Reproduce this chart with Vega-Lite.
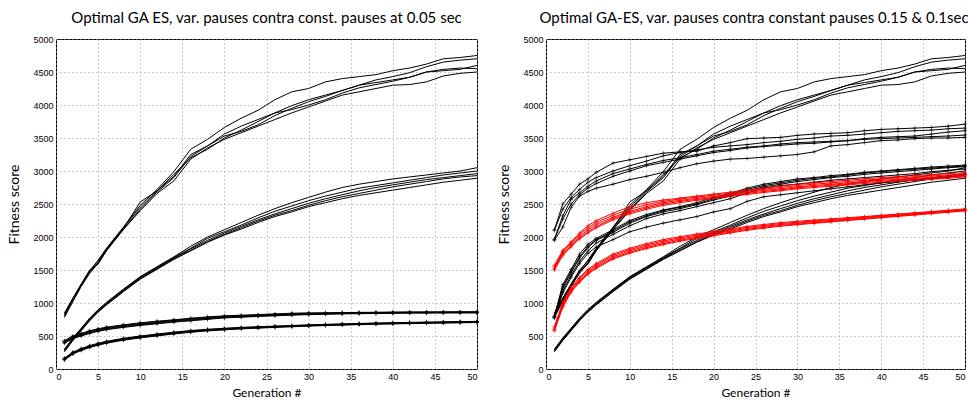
{
"$schema":"https://vega.github.io/schema/vega-lite/v6.json",
"padding":{"left":7,"top":10,"right":0,"bottom":0},
"config":{
"view":{"stroke":"black","strokeWidth":1},
"font":"Lato",
"axis":{"grid":true,"gridColor":"#999999","gridDash":[1,3],"gridWidth":1,"domain":false,"ticks":false,"labelFont":"Liberation Sans","labelFontSize":9,"labelColor":"black","labelPadding":3,"titleFont":"Lato","titleFontSize":12,"titleFontWeight":"normal","titleColor":"black","format":"d"},
"title":{"font":"Lato","fontSize":15,"fontWeight":"normal","color":"black","offset":9},
"concat":{"spacing":15}
},
"datasets":{"d":[
{"g":"A","s":1,"x":1,"y":850},{"g":"A","s":1,"x":2,"y":1070},{"g":"A","s":1,"x":3,"y":1280},{"g":"A","s":1,"x":4,"y":1480},{"g":"A","s":1,"x":5,"y":1650},{"g":"A","s":1,"x":6,"y":1830},{"g":"A","s":1,"x":8,"y":2150},{"g":"A","s":1,"x":10,"y":2480},{"g":"A","s":1,"x":12,"y":2720},{"g":"A","s":1,"x":14,"y":2990},{"g":"A","s":1,"x":16,"y":3330},{"g":"A","s":1,"x":18,"y":3480},{"g":"A","s":1,"x":20,"y":3660},{"g":"A","s":1,"x":22,"y":3800},{"g":"A","s":1,"x":24,"y":3920},{"g":"A","s":1,"x":26,"y":4080},{"g":"A","s":1,"x":28,"y":4200},{"g":"A","s":1,"x":30,"y":4250},{"g":"A","s":1,"x":32,"y":4350},{"g":"A","s":1,"x":34,"y":4400},{"g":"A","s":1,"x":36,"y":4430},{"g":"A","s":1,"x":38,"y":4460},{"g":"A","s":1,"x":40,"y":4520},{"g":"A","s":1,"x":42,"y":4560},{"g":"A","s":1,"x":44,"y":4620},{"g":"A","s":1,"x":46,"y":4700},{"g":"A","s":1,"x":48,"y":4720},{"g":"A","s":1,"x":50,"y":4750},
{"g":"A","s":2,"x":1,"y":800},{"g":"A","s":2,"x":2,"y":1040},{"g":"A","s":2,"x":3,"y":1270},{"g":"A","s":2,"x":4,"y":1480},{"g":"A","s":2,"x":5,"y":1610},{"g":"A","s":2,"x":6,"y":1810},{"g":"A","s":2,"x":8,"y":2130},{"g":"A","s":2,"x":10,"y":2530},{"g":"A","s":2,"x":12,"y":2700},{"g":"A","s":2,"x":14,"y":2950},{"g":"A","s":2,"x":16,"y":3200},{"g":"A","s":2,"x":18,"y":3330},{"g":"A","s":2,"x":20,"y":3500},{"g":"A","s":2,"x":22,"y":3620},{"g":"A","s":2,"x":24,"y":3750},{"g":"A","s":2,"x":26,"y":3880},{"g":"A","s":2,"x":28,"y":3990},{"g":"A","s":2,"x":30,"y":4080},{"g":"A","s":2,"x":32,"y":4150},{"g":"A","s":2,"x":34,"y":4220},{"g":"A","s":2,"x":36,"y":4300},{"g":"A","s":2,"x":38,"y":4380},{"g":"A","s":2,"x":40,"y":4430},{"g":"A","s":2,"x":42,"y":4490},{"g":"A","s":2,"x":44,"y":4580},{"g":"A","s":2,"x":46,"y":4650},{"g":"A","s":2,"x":48,"y":4680},{"g":"A","s":2,"x":50,"y":4700},
{"g":"A","s":3,"x":1,"y":780},{"g":"A","s":3,"x":2,"y":1020},{"g":"A","s":3,"x":3,"y":1250},{"g":"A","s":3,"x":4,"y":1450},{"g":"A","s":3,"x":5,"y":1600},{"g":"A","s":3,"x":6,"y":1800},{"g":"A","s":3,"x":8,"y":2120},{"g":"A","s":3,"x":10,"y":2420},{"g":"A","s":3,"x":12,"y":2680},{"g":"A","s":3,"x":14,"y":2900},{"g":"A","s":3,"x":16,"y":3220},{"g":"A","s":3,"x":18,"y":3380},{"g":"A","s":3,"x":20,"y":3530},{"g":"A","s":3,"x":22,"y":3600},{"g":"A","s":3,"x":24,"y":3700},{"g":"A","s":3,"x":26,"y":3840},{"g":"A","s":3,"x":28,"y":3950},{"g":"A","s":3,"x":30,"y":4050},{"g":"A","s":3,"x":32,"y":4130},{"g":"A","s":3,"x":34,"y":4220},{"g":"A","s":3,"x":36,"y":4300},{"g":"A","s":3,"x":38,"y":4340},{"g":"A","s":3,"x":40,"y":4380},{"g":"A","s":3,"x":42,"y":4420},{"g":"A","s":3,"x":44,"y":4500},{"g":"A","s":3,"x":46,"y":4520},{"g":"A","s":3,"x":48,"y":4540},{"g":"A","s":3,"x":50,"y":4600},
{"g":"A","s":4,"x":1,"y":820},{"g":"A","s":4,"x":2,"y":1060},{"g":"A","s":4,"x":3,"y":1280},{"g":"A","s":4,"x":4,"y":1470},{"g":"A","s":4,"x":5,"y":1590},{"g":"A","s":4,"x":6,"y":1790},{"g":"A","s":4,"x":8,"y":2110},{"g":"A","s":4,"x":10,"y":2400},{"g":"A","s":4,"x":12,"y":2660},{"g":"A","s":4,"x":14,"y":2850},{"g":"A","s":4,"x":16,"y":3180},{"g":"A","s":4,"x":18,"y":3350},{"g":"A","s":4,"x":20,"y":3480},{"g":"A","s":4,"x":22,"y":3580},{"g":"A","s":4,"x":24,"y":3680},{"g":"A","s":4,"x":26,"y":3780},{"g":"A","s":4,"x":28,"y":3880},{"g":"A","s":4,"x":30,"y":3970},{"g":"A","s":4,"x":32,"y":4060},{"g":"A","s":4,"x":34,"y":4150},{"g":"A","s":4,"x":36,"y":4200},{"g":"A","s":4,"x":38,"y":4250},{"g":"A","s":4,"x":40,"y":4300},{"g":"A","s":4,"x":42,"y":4310},{"g":"A","s":4,"x":44,"y":4350},{"g":"A","s":4,"x":46,"y":4440},{"g":"A","s":4,"x":48,"y":4480},{"g":"A","s":4,"x":50,"y":4500},
{"g":"A","s":5,"x":1,"y":830},{"g":"A","s":5,"x":2,"y":1070},{"g":"A","s":5,"x":3,"y":1290},{"g":"A","s":5,"x":4,"y":1500},{"g":"A","s":5,"x":5,"y":1630},{"g":"A","s":5,"x":6,"y":1820},{"g":"A","s":5,"x":8,"y":2140},{"g":"A","s":5,"x":10,"y":2450},{"g":"A","s":5,"x":12,"y":2700},{"g":"A","s":5,"x":14,"y":2920},{"g":"A","s":5,"x":16,"y":3250},{"g":"A","s":5,"x":18,"y":3380},{"g":"A","s":5,"x":20,"y":3560},{"g":"A","s":5,"x":22,"y":3680},{"g":"A","s":5,"x":24,"y":3780},{"g":"A","s":5,"x":26,"y":3880},{"g":"A","s":5,"x":28,"y":3930},{"g":"A","s":5,"x":30,"y":4000},{"g":"A","s":5,"x":32,"y":4080},{"g":"A","s":5,"x":34,"y":4180},{"g":"A","s":5,"x":36,"y":4260},{"g":"A","s":5,"x":38,"y":4310},{"g":"A","s":5,"x":40,"y":4360},{"g":"A","s":5,"x":42,"y":4420},{"g":"A","s":5,"x":44,"y":4500},{"g":"A","s":5,"x":46,"y":4540},{"g":"A","s":5,"x":48,"y":4560},{"g":"A","s":5,"x":50,"y":4550},
{"g":"B","s":1,"x":1,"y":300},{"g":"B","s":1,"x":2,"y":470},{"g":"B","s":1,"x":3,"y":620},{"g":"B","s":1,"x":4,"y":770},{"g":"B","s":1,"x":5,"y":900},{"g":"B","s":1,"x":6,"y":1010},{"g":"B","s":1,"x":8,"y":1210},{"g":"B","s":1,"x":10,"y":1400},{"g":"B","s":1,"x":12,"y":1550},{"g":"B","s":1,"x":14,"y":1700},{"g":"B","s":1,"x":16,"y":1860},{"g":"B","s":1,"x":18,"y":2000},{"g":"B","s":1,"x":20,"y":2110},{"g":"B","s":1,"x":22,"y":2220},{"g":"B","s":1,"x":24,"y":2330},{"g":"B","s":1,"x":26,"y":2430},{"g":"B","s":1,"x":28,"y":2520},{"g":"B","s":1,"x":30,"y":2600},{"g":"B","s":1,"x":32,"y":2680},{"g":"B","s":1,"x":34,"y":2750},{"g":"B","s":1,"x":36,"y":2800},{"g":"B","s":1,"x":38,"y":2840},{"g":"B","s":1,"x":40,"y":2880},{"g":"B","s":1,"x":42,"y":2910},{"g":"B","s":1,"x":44,"y":2940},{"g":"B","s":1,"x":46,"y":2970},{"g":"B","s":1,"x":48,"y":3000},{"g":"B","s":1,"x":50,"y":3050},
{"g":"B","s":2,"x":1,"y":290},{"g":"B","s":2,"x":2,"y":460},{"g":"B","s":2,"x":3,"y":610},{"g":"B","s":2,"x":4,"y":760},{"g":"B","s":2,"x":5,"y":890},{"g":"B","s":2,"x":6,"y":1000},{"g":"B","s":2,"x":8,"y":1200},{"g":"B","s":2,"x":10,"y":1390},{"g":"B","s":2,"x":12,"y":1540},{"g":"B","s":2,"x":14,"y":1690},{"g":"B","s":2,"x":16,"y":1830},{"g":"B","s":2,"x":18,"y":1980},{"g":"B","s":2,"x":20,"y":2080},{"g":"B","s":2,"x":22,"y":2180},{"g":"B","s":2,"x":24,"y":2290},{"g":"B","s":2,"x":26,"y":2390},{"g":"B","s":2,"x":28,"y":2470},{"g":"B","s":2,"x":30,"y":2550},{"g":"B","s":2,"x":32,"y":2620},{"g":"B","s":2,"x":34,"y":2680},{"g":"B","s":2,"x":36,"y":2740},{"g":"B","s":2,"x":38,"y":2780},{"g":"B","s":2,"x":40,"y":2820},{"g":"B","s":2,"x":42,"y":2860},{"g":"B","s":2,"x":44,"y":2900},{"g":"B","s":2,"x":46,"y":2940},{"g":"B","s":2,"x":48,"y":2970},{"g":"B","s":2,"x":50,"y":3000},
{"g":"B","s":3,"x":1,"y":280},{"g":"B","s":3,"x":2,"y":450},{"g":"B","s":3,"x":3,"y":600},{"g":"B","s":3,"x":4,"y":750},{"g":"B","s":3,"x":5,"y":880},{"g":"B","s":3,"x":6,"y":990},{"g":"B","s":3,"x":8,"y":1190},{"g":"B","s":3,"x":10,"y":1380},{"g":"B","s":3,"x":12,"y":1530},{"g":"B","s":3,"x":14,"y":1680},{"g":"B","s":3,"x":16,"y":1820},{"g":"B","s":3,"x":18,"y":1950},{"g":"B","s":3,"x":20,"y":2060},{"g":"B","s":3,"x":22,"y":2160},{"g":"B","s":3,"x":24,"y":2260},{"g":"B","s":3,"x":26,"y":2350},{"g":"B","s":3,"x":28,"y":2430},{"g":"B","s":3,"x":30,"y":2510},{"g":"B","s":3,"x":32,"y":2580},{"g":"B","s":3,"x":34,"y":2640},{"g":"B","s":3,"x":36,"y":2700},{"g":"B","s":3,"x":38,"y":2750},{"g":"B","s":3,"x":40,"y":2790},{"g":"B","s":3,"x":42,"y":2830},{"g":"B","s":3,"x":44,"y":2870},{"g":"B","s":3,"x":46,"y":2900},{"g":"B","s":3,"x":48,"y":2930},{"g":"B","s":3,"x":50,"y":2960},
{"g":"B","s":4,"x":1,"y":270},{"g":"B","s":4,"x":2,"y":440},{"g":"B","s":4,"x":3,"y":590},{"g":"B","s":4,"x":4,"y":740},{"g":"B","s":4,"x":5,"y":870},{"g":"B","s":4,"x":6,"y":980},{"g":"B","s":4,"x":8,"y":1180},{"g":"B","s":4,"x":10,"y":1370},{"g":"B","s":4,"x":12,"y":1520},{"g":"B","s":4,"x":14,"y":1670},{"g":"B","s":4,"x":16,"y":1800},{"g":"B","s":4,"x":18,"y":1930},{"g":"B","s":4,"x":20,"y":2040},{"g":"B","s":4,"x":22,"y":2140},{"g":"B","s":4,"x":24,"y":2240},{"g":"B","s":4,"x":26,"y":2330},{"g":"B","s":4,"x":28,"y":2400},{"g":"B","s":4,"x":30,"y":2480},{"g":"B","s":4,"x":32,"y":2550},{"g":"B","s":4,"x":34,"y":2610},{"g":"B","s":4,"x":36,"y":2660},{"g":"B","s":4,"x":38,"y":2710},{"g":"B","s":4,"x":40,"y":2760},{"g":"B","s":4,"x":42,"y":2800},{"g":"B","s":4,"x":44,"y":2840},{"g":"B","s":4,"x":46,"y":2880},{"g":"B","s":4,"x":48,"y":2910},{"g":"B","s":4,"x":50,"y":2930},
{"g":"B","s":5,"x":1,"y":260},{"g":"B","s":5,"x":2,"y":430},{"g":"B","s":5,"x":3,"y":580},{"g":"B","s":5,"x":4,"y":730},{"g":"B","s":5,"x":5,"y":860},{"g":"B","s":5,"x":6,"y":970},{"g":"B","s":5,"x":8,"y":1170},{"g":"B","s":5,"x":10,"y":1360},{"g":"B","s":5,"x":12,"y":1510},{"g":"B","s":5,"x":14,"y":1660},{"g":"B","s":5,"x":16,"y":1790},{"g":"B","s":5,"x":18,"y":1920},{"g":"B","s":5,"x":20,"y":2030},{"g":"B","s":5,"x":22,"y":2120},{"g":"B","s":5,"x":24,"y":2220},{"g":"B","s":5,"x":26,"y":2310},{"g":"B","s":5,"x":28,"y":2380},{"g":"B","s":5,"x":30,"y":2460},{"g":"B","s":5,"x":32,"y":2520},{"g":"B","s":5,"x":34,"y":2580},{"g":"B","s":5,"x":36,"y":2630},{"g":"B","s":5,"x":38,"y":2670},{"g":"B","s":5,"x":40,"y":2710},{"g":"B","s":5,"x":42,"y":2750},{"g":"B","s":5,"x":44,"y":2790},{"g":"B","s":5,"x":46,"y":2830},{"g":"B","s":5,"x":48,"y":2860},{"g":"B","s":5,"x":50,"y":2890},
{"g":"C","s":1,"x":1,"y":430},{"g":"C","s":1,"x":2,"y":500},{"g":"C","s":1,"x":3,"y":540},{"g":"C","s":1,"x":4,"y":580},{"g":"C","s":1,"x":5,"y":610},{"g":"C","s":1,"x":6,"y":635},{"g":"C","s":1,"x":8,"y":670},{"g":"C","s":1,"x":10,"y":700},{"g":"C","s":1,"x":12,"y":725},{"g":"C","s":1,"x":14,"y":745},{"g":"C","s":1,"x":16,"y":770},{"g":"C","s":1,"x":18,"y":790},{"g":"C","s":1,"x":20,"y":805},{"g":"C","s":1,"x":22,"y":815},{"g":"C","s":1,"x":24,"y":825},{"g":"C","s":1,"x":26,"y":835},{"g":"C","s":1,"x":28,"y":845},{"g":"C","s":1,"x":30,"y":850},{"g":"C","s":1,"x":32,"y":852},{"g":"C","s":1,"x":34,"y":855},{"g":"C","s":1,"x":36,"y":858},{"g":"C","s":1,"x":38,"y":860},{"g":"C","s":1,"x":40,"y":862},{"g":"C","s":1,"x":42,"y":864},{"g":"C","s":1,"x":44,"y":865},{"g":"C","s":1,"x":46,"y":866},{"g":"C","s":1,"x":48,"y":867},{"g":"C","s":1,"x":50,"y":868},
{"g":"C","s":2,"x":1,"y":420},{"g":"C","s":2,"x":2,"y":490},{"g":"C","s":2,"x":3,"y":530},{"g":"C","s":2,"x":4,"y":570},{"g":"C","s":2,"x":5,"y":600},{"g":"C","s":2,"x":6,"y":625},{"g":"C","s":2,"x":8,"y":660},{"g":"C","s":2,"x":10,"y":690},{"g":"C","s":2,"x":12,"y":715},{"g":"C","s":2,"x":14,"y":738},{"g":"C","s":2,"x":16,"y":760},{"g":"C","s":2,"x":18,"y":780},{"g":"C","s":2,"x":20,"y":798},{"g":"C","s":2,"x":22,"y":808},{"g":"C","s":2,"x":24,"y":818},{"g":"C","s":2,"x":26,"y":828},{"g":"C","s":2,"x":28,"y":838},{"g":"C","s":2,"x":30,"y":843},{"g":"C","s":2,"x":32,"y":847},{"g":"C","s":2,"x":34,"y":851},{"g":"C","s":2,"x":36,"y":854},{"g":"C","s":2,"x":38,"y":856},{"g":"C","s":2,"x":40,"y":858},{"g":"C","s":2,"x":42,"y":860},{"g":"C","s":2,"x":44,"y":861},{"g":"C","s":2,"x":46,"y":862},{"g":"C","s":2,"x":48,"y":863},{"g":"C","s":2,"x":50,"y":863},
{"g":"C","s":3,"x":1,"y":410},{"g":"C","s":3,"x":2,"y":480},{"g":"C","s":3,"x":3,"y":520},{"g":"C","s":3,"x":4,"y":560},{"g":"C","s":3,"x":5,"y":590},{"g":"C","s":3,"x":6,"y":615},{"g":"C","s":3,"x":8,"y":650},{"g":"C","s":3,"x":10,"y":680},{"g":"C","s":3,"x":12,"y":705},{"g":"C","s":3,"x":14,"y":730},{"g":"C","s":3,"x":16,"y":750},{"g":"C","s":3,"x":18,"y":770},{"g":"C","s":3,"x":20,"y":790},{"g":"C","s":3,"x":22,"y":800},{"g":"C","s":3,"x":24,"y":810},{"g":"C","s":3,"x":26,"y":820},{"g":"C","s":3,"x":28,"y":830},{"g":"C","s":3,"x":30,"y":835},{"g":"C","s":3,"x":32,"y":840},{"g":"C","s":3,"x":34,"y":845},{"g":"C","s":3,"x":36,"y":848},{"g":"C","s":3,"x":38,"y":850},{"g":"C","s":3,"x":40,"y":852},{"g":"C","s":3,"x":42,"y":855},{"g":"C","s":3,"x":44,"y":856},{"g":"C","s":3,"x":46,"y":857},{"g":"C","s":3,"x":48,"y":858},{"g":"C","s":3,"x":50,"y":858},
{"g":"C","s":4,"x":1,"y":400},{"g":"C","s":4,"x":2,"y":470},{"g":"C","s":4,"x":3,"y":510},{"g":"C","s":4,"x":4,"y":550},{"g":"C","s":4,"x":5,"y":580},{"g":"C","s":4,"x":6,"y":605},{"g":"C","s":4,"x":8,"y":640},{"g":"C","s":4,"x":10,"y":670},{"g":"C","s":4,"x":12,"y":695},{"g":"C","s":4,"x":14,"y":720},{"g":"C","s":4,"x":16,"y":740},{"g":"C","s":4,"x":18,"y":762},{"g":"C","s":4,"x":20,"y":782},{"g":"C","s":4,"x":22,"y":792},{"g":"C","s":4,"x":24,"y":803},{"g":"C","s":4,"x":26,"y":813},{"g":"C","s":4,"x":28,"y":823},{"g":"C","s":4,"x":30,"y":829},{"g":"C","s":4,"x":32,"y":835},{"g":"C","s":4,"x":34,"y":840},{"g":"C","s":4,"x":36,"y":843},{"g":"C","s":4,"x":38,"y":846},{"g":"C","s":4,"x":40,"y":848},{"g":"C","s":4,"x":42,"y":851},{"g":"C","s":4,"x":44,"y":852},{"g":"C","s":4,"x":46,"y":853},{"g":"C","s":4,"x":48,"y":854},{"g":"C","s":4,"x":50,"y":854},
{"g":"C","s":5,"x":1,"y":390},{"g":"C","s":5,"x":2,"y":460},{"g":"C","s":5,"x":3,"y":500},{"g":"C","s":5,"x":4,"y":540},{"g":"C","s":5,"x":5,"y":570},{"g":"C","s":5,"x":6,"y":595},{"g":"C","s":5,"x":8,"y":630},{"g":"C","s":5,"x":10,"y":660},{"g":"C","s":5,"x":12,"y":685},{"g":"C","s":5,"x":14,"y":710},{"g":"C","s":5,"x":16,"y":730},{"g":"C","s":5,"x":18,"y":752},{"g":"C","s":5,"x":20,"y":774},{"g":"C","s":5,"x":22,"y":785},{"g":"C","s":5,"x":24,"y":796},{"g":"C","s":5,"x":26,"y":806},{"g":"C","s":5,"x":28,"y":816},{"g":"C","s":5,"x":30,"y":823},{"g":"C","s":5,"x":32,"y":829},{"g":"C","s":5,"x":34,"y":835},{"g":"C","s":5,"x":36,"y":838},{"g":"C","s":5,"x":38,"y":841},{"g":"C","s":5,"x":40,"y":844},{"g":"C","s":5,"x":42,"y":847},{"g":"C","s":5,"x":44,"y":848},{"g":"C","s":5,"x":46,"y":849},{"g":"C","s":5,"x":48,"y":850},{"g":"C","s":5,"x":50,"y":850},
{"g":"D","s":1,"x":1,"y":165},{"g":"D","s":1,"x":2,"y":255},{"g":"D","s":1,"x":3,"y":310},{"g":"D","s":1,"x":4,"y":355},{"g":"D","s":1,"x":5,"y":390},{"g":"D","s":1,"x":6,"y":420},{"g":"D","s":1,"x":8,"y":465},{"g":"D","s":1,"x":10,"y":500},{"g":"D","s":1,"x":12,"y":530},{"g":"D","s":1,"x":14,"y":558},{"g":"D","s":1,"x":16,"y":583},{"g":"D","s":1,"x":18,"y":602},{"g":"D","s":1,"x":20,"y":617},{"g":"D","s":1,"x":22,"y":631},{"g":"D","s":1,"x":24,"y":640},{"g":"D","s":1,"x":26,"y":650},{"g":"D","s":1,"x":28,"y":659},{"g":"D","s":1,"x":30,"y":669},{"g":"D","s":1,"x":32,"y":676},{"g":"D","s":1,"x":34,"y":683},{"g":"D","s":1,"x":36,"y":690},{"g":"D","s":1,"x":38,"y":696},{"g":"D","s":1,"x":40,"y":701},{"g":"D","s":1,"x":42,"y":706},{"g":"D","s":1,"x":44,"y":710},{"g":"D","s":1,"x":46,"y":714},{"g":"D","s":1,"x":48,"y":718},{"g":"D","s":1,"x":50,"y":722},
{"g":"D","s":2,"x":1,"y":157},{"g":"D","s":2,"x":2,"y":247},{"g":"D","s":2,"x":3,"y":302},{"g":"D","s":2,"x":4,"y":347},{"g":"D","s":2,"x":5,"y":382},{"g":"D","s":2,"x":6,"y":412},{"g":"D","s":2,"x":8,"y":457},{"g":"D","s":2,"x":10,"y":492},{"g":"D","s":2,"x":12,"y":522},{"g":"D","s":2,"x":14,"y":552},{"g":"D","s":2,"x":16,"y":577},{"g":"D","s":2,"x":18,"y":596},{"g":"D","s":2,"x":20,"y":611},{"g":"D","s":2,"x":22,"y":626},{"g":"D","s":2,"x":24,"y":636},{"g":"D","s":2,"x":26,"y":645},{"g":"D","s":2,"x":28,"y":655},{"g":"D","s":2,"x":30,"y":665},{"g":"D","s":2,"x":32,"y":673},{"g":"D","s":2,"x":34,"y":680},{"g":"D","s":2,"x":36,"y":687},{"g":"D","s":2,"x":38,"y":693},{"g":"D","s":2,"x":40,"y":698},{"g":"D","s":2,"x":42,"y":703},{"g":"D","s":2,"x":44,"y":707},{"g":"D","s":2,"x":46,"y":711},{"g":"D","s":2,"x":48,"y":715},{"g":"D","s":2,"x":50,"y":719},
{"g":"D","s":3,"x":1,"y":150},{"g":"D","s":3,"x":2,"y":240},{"g":"D","s":3,"x":3,"y":295},{"g":"D","s":3,"x":4,"y":340},{"g":"D","s":3,"x":5,"y":375},{"g":"D","s":3,"x":6,"y":405},{"g":"D","s":3,"x":8,"y":450},{"g":"D","s":3,"x":10,"y":485},{"g":"D","s":3,"x":12,"y":515},{"g":"D","s":3,"x":14,"y":545},{"g":"D","s":3,"x":16,"y":570},{"g":"D","s":3,"x":18,"y":590},{"g":"D","s":3,"x":20,"y":605},{"g":"D","s":3,"x":22,"y":620},{"g":"D","s":3,"x":24,"y":630},{"g":"D","s":3,"x":26,"y":640},{"g":"D","s":3,"x":28,"y":650},{"g":"D","s":3,"x":30,"y":660},{"g":"D","s":3,"x":32,"y":668},{"g":"D","s":3,"x":34,"y":675},{"g":"D","s":3,"x":36,"y":682},{"g":"D","s":3,"x":38,"y":688},{"g":"D","s":3,"x":40,"y":693},{"g":"D","s":3,"x":42,"y":698},{"g":"D","s":3,"x":44,"y":702},{"g":"D","s":3,"x":46,"y":706},{"g":"D","s":3,"x":48,"y":710},{"g":"D","s":3,"x":50,"y":714},
{"g":"D","s":4,"x":1,"y":143},{"g":"D","s":4,"x":2,"y":233},{"g":"D","s":4,"x":3,"y":288},{"g":"D","s":4,"x":4,"y":333},{"g":"D","s":4,"x":5,"y":368},{"g":"D","s":4,"x":6,"y":398},{"g":"D","s":4,"x":8,"y":443},{"g":"D","s":4,"x":10,"y":478},{"g":"D","s":4,"x":12,"y":508},{"g":"D","s":4,"x":14,"y":538},{"g":"D","s":4,"x":16,"y":563},{"g":"D","s":4,"x":18,"y":584},{"g":"D","s":4,"x":20,"y":599},{"g":"D","s":4,"x":22,"y":614},{"g":"D","s":4,"x":24,"y":624},{"g":"D","s":4,"x":26,"y":635},{"g":"D","s":4,"x":28,"y":645},{"g":"D","s":4,"x":30,"y":655},{"g":"D","s":4,"x":32,"y":663},{"g":"D","s":4,"x":34,"y":670},{"g":"D","s":4,"x":36,"y":677},{"g":"D","s":4,"x":38,"y":683},{"g":"D","s":4,"x":40,"y":688},{"g":"D","s":4,"x":42,"y":693},{"g":"D","s":4,"x":44,"y":697},{"g":"D","s":4,"x":46,"y":701},{"g":"D","s":4,"x":48,"y":705},{"g":"D","s":4,"x":50,"y":709},
{"g":"D","s":5,"x":1,"y":136},{"g":"D","s":5,"x":2,"y":226},{"g":"D","s":5,"x":3,"y":281},{"g":"D","s":5,"x":4,"y":326},{"g":"D","s":5,"x":5,"y":361},{"g":"D","s":5,"x":6,"y":391},{"g":"D","s":5,"x":8,"y":436},{"g":"D","s":5,"x":10,"y":471},{"g":"D","s":5,"x":12,"y":501},{"g":"D","s":5,"x":14,"y":531},{"g":"D","s":5,"x":16,"y":556},{"g":"D","s":5,"x":18,"y":578},{"g":"D","s":5,"x":20,"y":593},{"g":"D","s":5,"x":22,"y":608},{"g":"D","s":5,"x":24,"y":619},{"g":"D","s":5,"x":26,"y":630},{"g":"D","s":5,"x":28,"y":640},{"g":"D","s":5,"x":30,"y":650},{"g":"D","s":5,"x":32,"y":658},{"g":"D","s":5,"x":34,"y":665},{"g":"D","s":5,"x":36,"y":672},{"g":"D","s":5,"x":38,"y":678},{"g":"D","s":5,"x":40,"y":683},{"g":"D","s":5,"x":42,"y":688},{"g":"D","s":5,"x":44,"y":692},{"g":"D","s":5,"x":46,"y":696},{"g":"D","s":5,"x":48,"y":700},{"g":"D","s":5,"x":50,"y":704},
{"g":"E","s":1,"x":1,"y":2110},{"g":"E","s":1,"x":2,"y":2500},{"g":"E","s":1,"x":3,"y":2650},{"g":"E","s":1,"x":4,"y":2800},{"g":"E","s":1,"x":5,"y":2880},{"g":"E","s":1,"x":6,"y":2980},{"g":"E","s":1,"x":8,"y":3120},{"g":"E","s":1,"x":10,"y":3170},{"g":"E","s":1,"x":12,"y":3220},{"g":"E","s":1,"x":14,"y":3270},{"g":"E","s":1,"x":16,"y":3290},{"g":"E","s":1,"x":18,"y":3300},{"g":"E","s":1,"x":20,"y":3380},{"g":"E","s":1,"x":22,"y":3430},{"g":"E","s":1,"x":24,"y":3490},{"g":"E","s":1,"x":26,"y":3500},{"g":"E","s":1,"x":28,"y":3510},{"g":"E","s":1,"x":30,"y":3540},{"g":"E","s":1,"x":32,"y":3560},{"g":"E","s":1,"x":34,"y":3570},{"g":"E","s":1,"x":36,"y":3580},{"g":"E","s":1,"x":38,"y":3610},{"g":"E","s":1,"x":40,"y":3630},{"g":"E","s":1,"x":42,"y":3640},{"g":"E","s":1,"x":44,"y":3650},{"g":"E","s":1,"x":46,"y":3660},{"g":"E","s":1,"x":48,"y":3680},{"g":"E","s":1,"x":50,"y":3710},
{"g":"E","s":2,"x":1,"y":2100},{"g":"E","s":2,"x":2,"y":2420},{"g":"E","s":2,"x":3,"y":2600},{"g":"E","s":2,"x":4,"y":2720},{"g":"E","s":2,"x":5,"y":2830},{"g":"E","s":2,"x":6,"y":2900},{"g":"E","s":2,"x":8,"y":3000},{"g":"E","s":2,"x":10,"y":3080},{"g":"E","s":2,"x":12,"y":3150},{"g":"E","s":2,"x":14,"y":3230},{"g":"E","s":2,"x":16,"y":3280},{"g":"E","s":2,"x":18,"y":3320},{"g":"E","s":2,"x":20,"y":3360},{"g":"E","s":2,"x":22,"y":3380},{"g":"E","s":2,"x":24,"y":3400},{"g":"E","s":2,"x":26,"y":3430},{"g":"E","s":2,"x":28,"y":3450},{"g":"E","s":2,"x":30,"y":3480},{"g":"E","s":2,"x":32,"y":3500},{"g":"E","s":2,"x":34,"y":3530},{"g":"E","s":2,"x":36,"y":3540},{"g":"E","s":2,"x":38,"y":3560},{"g":"E","s":2,"x":40,"y":3580},{"g":"E","s":2,"x":42,"y":3600},{"g":"E","s":2,"x":44,"y":3610},{"g":"E","s":2,"x":46,"y":3620},{"g":"E","s":2,"x":48,"y":3640},{"g":"E","s":2,"x":50,"y":3650},
{"g":"E","s":3,"x":1,"y":1970},{"g":"E","s":3,"x":2,"y":2320},{"g":"E","s":3,"x":3,"y":2570},{"g":"E","s":3,"x":4,"y":2670},{"g":"E","s":3,"x":5,"y":2770},{"g":"E","s":3,"x":6,"y":2850},{"g":"E","s":3,"x":8,"y":2960},{"g":"E","s":3,"x":10,"y":3030},{"g":"E","s":3,"x":12,"y":3100},{"g":"E","s":3,"x":14,"y":3160},{"g":"E","s":3,"x":16,"y":3200},{"g":"E","s":3,"x":18,"y":3250},{"g":"E","s":3,"x":20,"y":3300},{"g":"E","s":3,"x":22,"y":3330},{"g":"E","s":3,"x":24,"y":3360},{"g":"E","s":3,"x":26,"y":3380},{"g":"E","s":3,"x":28,"y":3410},{"g":"E","s":3,"x":30,"y":3430},{"g":"E","s":3,"x":32,"y":3440},{"g":"E","s":3,"x":34,"y":3450},{"g":"E","s":3,"x":36,"y":3460},{"g":"E","s":3,"x":38,"y":3490},{"g":"E","s":3,"x":40,"y":3510},{"g":"E","s":3,"x":42,"y":3520},{"g":"E","s":3,"x":44,"y":3530},{"g":"E","s":3,"x":46,"y":3560},{"g":"E","s":3,"x":48,"y":3590},{"g":"E","s":3,"x":50,"y":3610},
{"g":"E","s":4,"x":1,"y":1960},{"g":"E","s":4,"x":2,"y":2270},{"g":"E","s":4,"x":3,"y":2500},{"g":"E","s":4,"x":4,"y":2640},{"g":"E","s":4,"x":5,"y":2740},{"g":"E","s":4,"x":6,"y":2810},{"g":"E","s":4,"x":8,"y":2920},{"g":"E","s":4,"x":10,"y":3000},{"g":"E","s":4,"x":12,"y":3080},{"g":"E","s":4,"x":14,"y":3130},{"g":"E","s":4,"x":16,"y":3180},{"g":"E","s":4,"x":18,"y":3230},{"g":"E","s":4,"x":20,"y":3280},{"g":"E","s":4,"x":22,"y":3310},{"g":"E","s":4,"x":24,"y":3350},{"g":"E","s":4,"x":26,"y":3370},{"g":"E","s":4,"x":28,"y":3390},{"g":"E","s":4,"x":30,"y":3410},{"g":"E","s":4,"x":32,"y":3420},{"g":"E","s":4,"x":34,"y":3440},{"g":"E","s":4,"x":36,"y":3460},{"g":"E","s":4,"x":38,"y":3480},{"g":"E","s":4,"x":40,"y":3490},{"g":"E","s":4,"x":42,"y":3500},{"g":"E","s":4,"x":44,"y":3510},{"g":"E","s":4,"x":46,"y":3520},{"g":"E","s":4,"x":48,"y":3530},{"g":"E","s":4,"x":50,"y":3545},
{"g":"E","s":5,"x":1,"y":1950},{"g":"E","s":5,"x":2,"y":2150},{"g":"E","s":5,"x":3,"y":2450},{"g":"E","s":5,"x":4,"y":2620},{"g":"E","s":5,"x":5,"y":2690},{"g":"E","s":5,"x":6,"y":2740},{"g":"E","s":5,"x":8,"y":2800},{"g":"E","s":5,"x":10,"y":2870},{"g":"E","s":5,"x":12,"y":2920},{"g":"E","s":5,"x":14,"y":2980},{"g":"E","s":5,"x":16,"y":3050},{"g":"E","s":5,"x":18,"y":3110},{"g":"E","s":5,"x":20,"y":3150},{"g":"E","s":5,"x":22,"y":3180},{"g":"E","s":5,"x":24,"y":3190},{"g":"E","s":5,"x":26,"y":3210},{"g":"E","s":5,"x":28,"y":3230},{"g":"E","s":5,"x":30,"y":3250},{"g":"E","s":5,"x":32,"y":3290},{"g":"E","s":5,"x":34,"y":3380},{"g":"E","s":5,"x":36,"y":3400},{"g":"E","s":5,"x":38,"y":3430},{"g":"E","s":5,"x":40,"y":3460},{"g":"E","s":5,"x":42,"y":3470},{"g":"E","s":5,"x":44,"y":3490},{"g":"E","s":5,"x":46,"y":3500},{"g":"E","s":5,"x":48,"y":3500},{"g":"E","s":5,"x":50,"y":3510},
{"g":"F","s":1,"x":1,"y":800},{"g":"F","s":1,"x":2,"y":1280},{"g":"F","s":1,"x":3,"y":1510},{"g":"F","s":1,"x":4,"y":1740},{"g":"F","s":1,"x":5,"y":1890},{"g":"F","s":1,"x":6,"y":1980},{"g":"F","s":1,"x":8,"y":2110},{"g":"F","s":1,"x":10,"y":2250},{"g":"F","s":1,"x":12,"y":2340},{"g":"F","s":1,"x":14,"y":2410},{"g":"F","s":1,"x":16,"y":2460},{"g":"F","s":1,"x":18,"y":2520},{"g":"F","s":1,"x":20,"y":2600},{"g":"F","s":1,"x":22,"y":2660},{"g":"F","s":1,"x":24,"y":2740},{"g":"F","s":1,"x":26,"y":2800},{"g":"F","s":1,"x":28,"y":2840},{"g":"F","s":1,"x":30,"y":2880},{"g":"F","s":1,"x":32,"y":2900},{"g":"F","s":1,"x":34,"y":2930},{"g":"F","s":1,"x":36,"y":2950},{"g":"F","s":1,"x":38,"y":2980},{"g":"F","s":1,"x":40,"y":3000},{"g":"F","s":1,"x":42,"y":3020},{"g":"F","s":1,"x":44,"y":3040},{"g":"F","s":1,"x":46,"y":3060},{"g":"F","s":1,"x":48,"y":3075},{"g":"F","s":1,"x":50,"y":3090},
{"g":"F","s":2,"x":1,"y":790},{"g":"F","s":2,"x":2,"y":1220},{"g":"F","s":2,"x":3,"y":1460},{"g":"F","s":2,"x":4,"y":1680},{"g":"F","s":2,"x":5,"y":1840},{"g":"F","s":2,"x":6,"y":1950},{"g":"F","s":2,"x":8,"y":2070},{"g":"F","s":2,"x":10,"y":2210},{"g":"F","s":2,"x":12,"y":2310},{"g":"F","s":2,"x":14,"y":2380},{"g":"F","s":2,"x":16,"y":2430},{"g":"F","s":2,"x":18,"y":2490},{"g":"F","s":2,"x":20,"y":2560},{"g":"F","s":2,"x":22,"y":2620},{"g":"F","s":2,"x":24,"y":2700},{"g":"F","s":2,"x":26,"y":2760},{"g":"F","s":2,"x":28,"y":2800},{"g":"F","s":2,"x":30,"y":2840},{"g":"F","s":2,"x":32,"y":2870},{"g":"F","s":2,"x":34,"y":2900},{"g":"F","s":2,"x":36,"y":2920},{"g":"F","s":2,"x":38,"y":2950},{"g":"F","s":2,"x":40,"y":2970},{"g":"F","s":2,"x":42,"y":2990},{"g":"F","s":2,"x":44,"y":3010},{"g":"F","s":2,"x":46,"y":3030},{"g":"F","s":2,"x":48,"y":3050},{"g":"F","s":2,"x":50,"y":3065},
{"g":"F","s":3,"x":1,"y":780},{"g":"F","s":3,"x":2,"y":1180},{"g":"F","s":3,"x":3,"y":1420},{"g":"F","s":3,"x":4,"y":1630},{"g":"F","s":3,"x":5,"y":1790},{"g":"F","s":3,"x":6,"y":1910},{"g":"F","s":3,"x":8,"y":2040},{"g":"F","s":3,"x":10,"y":2170},{"g":"F","s":3,"x":12,"y":2280},{"g":"F","s":3,"x":14,"y":2350},{"g":"F","s":3,"x":16,"y":2400},{"g":"F","s":3,"x":18,"y":2460},{"g":"F","s":3,"x":20,"y":2520},{"g":"F","s":3,"x":22,"y":2580},{"g":"F","s":3,"x":24,"y":2670},{"g":"F","s":3,"x":26,"y":2740},{"g":"F","s":3,"x":28,"y":2780},{"g":"F","s":3,"x":30,"y":2800},{"g":"F","s":3,"x":32,"y":2830},{"g":"F","s":3,"x":34,"y":2860},{"g":"F","s":3,"x":36,"y":2880},{"g":"F","s":3,"x":38,"y":2900},{"g":"F","s":3,"x":40,"y":2920},{"g":"F","s":3,"x":42,"y":2940},{"g":"F","s":3,"x":44,"y":2960},{"g":"F","s":3,"x":46,"y":2990},{"g":"F","s":3,"x":48,"y":3010},{"g":"F","s":3,"x":50,"y":3030},
{"g":"F","s":4,"x":1,"y":770},{"g":"F","s":4,"x":2,"y":1150},{"g":"F","s":4,"x":3,"y":1390},{"g":"F","s":4,"x":4,"y":1600},{"g":"F","s":4,"x":5,"y":1750},{"g":"F","s":4,"x":6,"y":1850},{"g":"F","s":4,"x":8,"y":1960},{"g":"F","s":4,"x":10,"y":2080},{"g":"F","s":4,"x":12,"y":2150},{"g":"F","s":4,"x":14,"y":2210},{"g":"F","s":4,"x":16,"y":2260},{"g":"F","s":4,"x":18,"y":2310},{"g":"F","s":4,"x":20,"y":2380},{"g":"F","s":4,"x":22,"y":2430},{"g":"F","s":4,"x":24,"y":2540},{"g":"F","s":4,"x":26,"y":2610},{"g":"F","s":4,"x":28,"y":2640},{"g":"F","s":4,"x":30,"y":2670},{"g":"F","s":4,"x":32,"y":2700},{"g":"F","s":4,"x":34,"y":2730},{"g":"F","s":4,"x":36,"y":2760},{"g":"F","s":4,"x":38,"y":2790},{"g":"F","s":4,"x":40,"y":2820},{"g":"F","s":4,"x":42,"y":2840},{"g":"F","s":4,"x":44,"y":2860},{"g":"F","s":4,"x":46,"y":2880},{"g":"F","s":4,"x":48,"y":2910},{"g":"F","s":4,"x":50,"y":2950},
{"g":"F","s":5,"x":1,"y":800},{"g":"F","s":5,"x":2,"y":1250},{"g":"F","s":5,"x":3,"y":1480},{"g":"F","s":5,"x":4,"y":1700},{"g":"F","s":5,"x":5,"y":1860},{"g":"F","s":5,"x":6,"y":1960},{"g":"F","s":5,"x":8,"y":2090},{"g":"F","s":5,"x":10,"y":2230},{"g":"F","s":5,"x":12,"y":2320},{"g":"F","s":5,"x":14,"y":2400},{"g":"F","s":5,"x":16,"y":2450},{"g":"F","s":5,"x":18,"y":2500},{"g":"F","s":5,"x":20,"y":2580},{"g":"F","s":5,"x":22,"y":2640},{"g":"F","s":5,"x":24,"y":2720},{"g":"F","s":5,"x":26,"y":2780},{"g":"F","s":5,"x":28,"y":2820},{"g":"F","s":5,"x":30,"y":2860},{"g":"F","s":5,"x":32,"y":2890},{"g":"F","s":5,"x":34,"y":2910},{"g":"F","s":5,"x":36,"y":2940},{"g":"F","s":5,"x":38,"y":2970},{"g":"F","s":5,"x":40,"y":2990},{"g":"F","s":5,"x":42,"y":3010},{"g":"F","s":5,"x":44,"y":3030},{"g":"F","s":5,"x":46,"y":3045},{"g":"F","s":5,"x":48,"y":3060},{"g":"F","s":5,"x":50,"y":3075},
{"g":"G","s":1,"x":1,"y":1570},{"g":"G","s":1,"x":2,"y":1800},{"g":"G","s":1,"x":3,"y":1930},{"g":"G","s":1,"x":4,"y":2060},{"g":"G","s":1,"x":5,"y":2170},{"g":"G","s":1,"x":6,"y":2250},{"g":"G","s":1,"x":8,"y":2360},{"g":"G","s":1,"x":10,"y":2460},{"g":"G","s":1,"x":12,"y":2520},{"g":"G","s":1,"x":14,"y":2560},{"g":"G","s":1,"x":16,"y":2590},{"g":"G","s":1,"x":18,"y":2620},{"g":"G","s":1,"x":20,"y":2650},{"g":"G","s":1,"x":22,"y":2680},{"g":"G","s":1,"x":24,"y":2710},{"g":"G","s":1,"x":26,"y":2740},{"g":"G","s":1,"x":28,"y":2770},{"g":"G","s":1,"x":30,"y":2800},{"g":"G","s":1,"x":32,"y":2820},{"g":"G","s":1,"x":34,"y":2840},{"g":"G","s":1,"x":36,"y":2860},{"g":"G","s":1,"x":38,"y":2880},{"g":"G","s":1,"x":40,"y":2900},{"g":"G","s":1,"x":42,"y":2915},{"g":"G","s":1,"x":44,"y":2930},{"g":"G","s":1,"x":46,"y":2945},{"g":"G","s":1,"x":48,"y":2960},{"g":"G","s":1,"x":50,"y":2975},
{"g":"G","s":2,"x":1,"y":1550},{"g":"G","s":2,"x":2,"y":1780},{"g":"G","s":2,"x":3,"y":1910},{"g":"G","s":2,"x":4,"y":2040},{"g":"G","s":2,"x":5,"y":2140},{"g":"G","s":2,"x":6,"y":2220},{"g":"G","s":2,"x":8,"y":2330},{"g":"G","s":2,"x":10,"y":2420},{"g":"G","s":2,"x":12,"y":2490},{"g":"G","s":2,"x":14,"y":2540},{"g":"G","s":2,"x":16,"y":2575},{"g":"G","s":2,"x":18,"y":2605},{"g":"G","s":2,"x":20,"y":2635},{"g":"G","s":2,"x":22,"y":2665},{"g":"G","s":2,"x":24,"y":2695},{"g":"G","s":2,"x":26,"y":2725},{"g":"G","s":2,"x":28,"y":2750},{"g":"G","s":2,"x":30,"y":2780},{"g":"G","s":2,"x":32,"y":2800},{"g":"G","s":2,"x":34,"y":2820},{"g":"G","s":2,"x":36,"y":2840},{"g":"G","s":2,"x":38,"y":2860},{"g":"G","s":2,"x":40,"y":2880},{"g":"G","s":2,"x":42,"y":2895},{"g":"G","s":2,"x":44,"y":2910},{"g":"G","s":2,"x":46,"y":2925},{"g":"G","s":2,"x":48,"y":2940},{"g":"G","s":2,"x":50,"y":2955},
{"g":"G","s":3,"x":1,"y":1530},{"g":"G","s":3,"x":2,"y":1760},{"g":"G","s":3,"x":3,"y":1890},{"g":"G","s":3,"x":4,"y":2010},{"g":"G","s":3,"x":5,"y":2110},{"g":"G","s":3,"x":6,"y":2190},{"g":"G","s":3,"x":8,"y":2300},{"g":"G","s":3,"x":10,"y":2390},{"g":"G","s":3,"x":12,"y":2460},{"g":"G","s":3,"x":14,"y":2520},{"g":"G","s":3,"x":16,"y":2555},{"g":"G","s":3,"x":18,"y":2585},{"g":"G","s":3,"x":20,"y":2615},{"g":"G","s":3,"x":22,"y":2645},{"g":"G","s":3,"x":24,"y":2675},{"g":"G","s":3,"x":26,"y":2705},{"g":"G","s":3,"x":28,"y":2730},{"g":"G","s":3,"x":30,"y":2760},{"g":"G","s":3,"x":32,"y":2780},{"g":"G","s":3,"x":34,"y":2800},{"g":"G","s":3,"x":36,"y":2820},{"g":"G","s":3,"x":38,"y":2840},{"g":"G","s":3,"x":40,"y":2860},{"g":"G","s":3,"x":42,"y":2875},{"g":"G","s":3,"x":44,"y":2890},{"g":"G","s":3,"x":46,"y":2905},{"g":"G","s":3,"x":48,"y":2920},{"g":"G","s":3,"x":50,"y":2940},
{"g":"G","s":4,"x":1,"y":1510},{"g":"G","s":4,"x":2,"y":1740},{"g":"G","s":4,"x":3,"y":1870},{"g":"G","s":4,"x":4,"y":1990},{"g":"G","s":4,"x":5,"y":2080},{"g":"G","s":4,"x":6,"y":2160},{"g":"G","s":4,"x":8,"y":2280},{"g":"G","s":4,"x":10,"y":2370},{"g":"G","s":4,"x":12,"y":2440},{"g":"G","s":4,"x":14,"y":2500},{"g":"G","s":4,"x":16,"y":2540},{"g":"G","s":4,"x":18,"y":2570},{"g":"G","s":4,"x":20,"y":2600},{"g":"G","s":4,"x":22,"y":2630},{"g":"G","s":4,"x":24,"y":2660},{"g":"G","s":4,"x":26,"y":2690},{"g":"G","s":4,"x":28,"y":2715},{"g":"G","s":4,"x":30,"y":2745},{"g":"G","s":4,"x":32,"y":2765},{"g":"G","s":4,"x":34,"y":2785},{"g":"G","s":4,"x":36,"y":2805},{"g":"G","s":4,"x":38,"y":2825},{"g":"G","s":4,"x":40,"y":2845},{"g":"G","s":4,"x":42,"y":2860},{"g":"G","s":4,"x":44,"y":2875},{"g":"G","s":4,"x":46,"y":2890},{"g":"G","s":4,"x":48,"y":2905},{"g":"G","s":4,"x":50,"y":2925},
{"g":"G","s":5,"x":1,"y":1500},{"g":"G","s":5,"x":2,"y":1720},{"g":"G","s":5,"x":3,"y":1850},{"g":"G","s":5,"x":4,"y":1970},{"g":"G","s":5,"x":5,"y":2060},{"g":"G","s":5,"x":6,"y":2140},{"g":"G","s":5,"x":8,"y":2260},{"g":"G","s":5,"x":10,"y":2350},{"g":"G","s":5,"x":12,"y":2420},{"g":"G","s":5,"x":14,"y":2480},{"g":"G","s":5,"x":16,"y":2520},{"g":"G","s":5,"x":18,"y":2555},{"g":"G","s":5,"x":20,"y":2585},{"g":"G","s":5,"x":22,"y":2615},{"g":"G","s":5,"x":24,"y":2645},{"g":"G","s":5,"x":26,"y":2675},{"g":"G","s":5,"x":28,"y":2700},{"g":"G","s":5,"x":30,"y":2730},{"g":"G","s":5,"x":32,"y":2750},{"g":"G","s":5,"x":34,"y":2770},{"g":"G","s":5,"x":36,"y":2790},{"g":"G","s":5,"x":38,"y":2810},{"g":"G","s":5,"x":40,"y":2830},{"g":"G","s":5,"x":42,"y":2845},{"g":"G","s":5,"x":44,"y":2860},{"g":"G","s":5,"x":46,"y":2875},{"g":"G","s":5,"x":48,"y":2890},{"g":"G","s":5,"x":50,"y":2910},
{"g":"H","s":1,"x":1,"y":640},{"g":"H","s":1,"x":2,"y":1010},{"g":"H","s":1,"x":3,"y":1240},{"g":"H","s":1,"x":4,"y":1390},{"g":"H","s":1,"x":5,"y":1510},{"g":"H","s":1,"x":6,"y":1600},{"g":"H","s":1,"x":8,"y":1740},{"g":"H","s":1,"x":10,"y":1830},{"g":"H","s":1,"x":12,"y":1900},{"g":"H","s":1,"x":14,"y":1960},{"g":"H","s":1,"x":16,"y":2005},{"g":"H","s":1,"x":18,"y":2045},{"g":"H","s":1,"x":20,"y":2085},{"g":"H","s":1,"x":22,"y":2122},{"g":"H","s":1,"x":24,"y":2160},{"g":"H","s":1,"x":26,"y":2190},{"g":"H","s":1,"x":28,"y":2218},{"g":"H","s":1,"x":30,"y":2238},{"g":"H","s":1,"x":32,"y":2256},{"g":"H","s":1,"x":34,"y":2274},{"g":"H","s":1,"x":36,"y":2292},{"g":"H","s":1,"x":38,"y":2310},{"g":"H","s":1,"x":40,"y":2330},{"g":"H","s":1,"x":42,"y":2348},{"g":"H","s":1,"x":44,"y":2367},{"g":"H","s":1,"x":46,"y":2386},{"g":"H","s":1,"x":48,"y":2405},{"g":"H","s":1,"x":50,"y":2425},
{"g":"H","s":2,"x":1,"y":620},{"g":"H","s":2,"x":2,"y":990},{"g":"H","s":2,"x":3,"y":1220},{"g":"H","s":2,"x":4,"y":1370},{"g":"H","s":2,"x":5,"y":1490},{"g":"H","s":2,"x":6,"y":1580},{"g":"H","s":2,"x":8,"y":1720},{"g":"H","s":2,"x":10,"y":1810},{"g":"H","s":2,"x":12,"y":1880},{"g":"H","s":2,"x":14,"y":1940},{"g":"H","s":2,"x":16,"y":1988},{"g":"H","s":2,"x":18,"y":2028},{"g":"H","s":2,"x":20,"y":2068},{"g":"H","s":2,"x":22,"y":2106},{"g":"H","s":2,"x":24,"y":2145},{"g":"H","s":2,"x":26,"y":2175},{"g":"H","s":2,"x":28,"y":2204},{"g":"H","s":2,"x":30,"y":2224},{"g":"H","s":2,"x":32,"y":2243},{"g":"H","s":2,"x":34,"y":2262},{"g":"H","s":2,"x":36,"y":2281},{"g":"H","s":2,"x":38,"y":2300},{"g":"H","s":2,"x":40,"y":2320},{"g":"H","s":2,"x":42,"y":2340},{"g":"H","s":2,"x":44,"y":2360},{"g":"H","s":2,"x":46,"y":2380},{"g":"H","s":2,"x":48,"y":2400},{"g":"H","s":2,"x":50,"y":2418},
{"g":"H","s":3,"x":1,"y":600},{"g":"H","s":3,"x":2,"y":970},{"g":"H","s":3,"x":3,"y":1200},{"g":"H","s":3,"x":4,"y":1350},{"g":"H","s":3,"x":5,"y":1470},{"g":"H","s":3,"x":6,"y":1560},{"g":"H","s":3,"x":8,"y":1700},{"g":"H","s":3,"x":10,"y":1790},{"g":"H","s":3,"x":12,"y":1860},{"g":"H","s":3,"x":14,"y":1920},{"g":"H","s":3,"x":16,"y":1970},{"g":"H","s":3,"x":18,"y":2010},{"g":"H","s":3,"x":20,"y":2050},{"g":"H","s":3,"x":22,"y":2090},{"g":"H","s":3,"x":24,"y":2130},{"g":"H","s":3,"x":26,"y":2160},{"g":"H","s":3,"x":28,"y":2190},{"g":"H","s":3,"x":30,"y":2210},{"g":"H","s":3,"x":32,"y":2230},{"g":"H","s":3,"x":34,"y":2250},{"g":"H","s":3,"x":36,"y":2270},{"g":"H","s":3,"x":38,"y":2290},{"g":"H","s":3,"x":40,"y":2310},{"g":"H","s":3,"x":42,"y":2330},{"g":"H","s":3,"x":44,"y":2350},{"g":"H","s":3,"x":46,"y":2370},{"g":"H","s":3,"x":48,"y":2390},{"g":"H","s":3,"x":50,"y":2410},
{"g":"H","s":4,"x":1,"y":590},{"g":"H","s":4,"x":2,"y":950},{"g":"H","s":4,"x":3,"y":1180},{"g":"H","s":4,"x":4,"y":1330},{"g":"H","s":4,"x":5,"y":1450},{"g":"H","s":4,"x":6,"y":1540},{"g":"H","s":4,"x":8,"y":1680},{"g":"H","s":4,"x":10,"y":1770},{"g":"H","s":4,"x":12,"y":1840},{"g":"H","s":4,"x":14,"y":1900},{"g":"H","s":4,"x":16,"y":1952},{"g":"H","s":4,"x":18,"y":1993},{"g":"H","s":4,"x":20,"y":2033},{"g":"H","s":4,"x":22,"y":2074},{"g":"H","s":4,"x":24,"y":2115},{"g":"H","s":4,"x":26,"y":2146},{"g":"H","s":4,"x":28,"y":2176},{"g":"H","s":4,"x":30,"y":2197},{"g":"H","s":4,"x":32,"y":2217},{"g":"H","s":4,"x":34,"y":2238},{"g":"H","s":4,"x":36,"y":2258},{"g":"H","s":4,"x":38,"y":2279},{"g":"H","s":4,"x":40,"y":2299},{"g":"H","s":4,"x":42,"y":2320},{"g":"H","s":4,"x":44,"y":2340},{"g":"H","s":4,"x":46,"y":2360},{"g":"H","s":4,"x":48,"y":2381},{"g":"H","s":4,"x":50,"y":2400},
{"g":"H","s":5,"x":1,"y":580},{"g":"H","s":5,"x":2,"y":935},{"g":"H","s":5,"x":3,"y":1165},{"g":"H","s":5,"x":4,"y":1315},{"g":"H","s":5,"x":5,"y":1435},{"g":"H","s":5,"x":6,"y":1525},{"g":"H","s":5,"x":8,"y":1665},{"g":"H","s":5,"x":10,"y":1755},{"g":"H","s":5,"x":12,"y":1825},{"g":"H","s":5,"x":14,"y":1885},{"g":"H","s":5,"x":16,"y":1937},{"g":"H","s":5,"x":18,"y":1978},{"g":"H","s":5,"x":20,"y":2019},{"g":"H","s":5,"x":22,"y":2061},{"g":"H","s":5,"x":24,"y":2102},{"g":"H","s":5,"x":26,"y":2134},{"g":"H","s":5,"x":28,"y":2165},{"g":"H","s":5,"x":30,"y":2186},{"g":"H","s":5,"x":32,"y":2207},{"g":"H","s":5,"x":34,"y":2228},{"g":"H","s":5,"x":36,"y":2249},{"g":"H","s":5,"x":38,"y":2270},{"g":"H","s":5,"x":40,"y":2291},{"g":"H","s":5,"x":42,"y":2312},{"g":"H","s":5,"x":44,"y":2333},{"g":"H","s":5,"x":46,"y":2354},{"g":"H","s":5,"x":48,"y":2375},{"g":"H","s":5,"x":50,"y":2395}
]},
"hconcat":[
{"width":421,"height":330,
"title":{"text":"Optimal GA ES, var. pauses contra const. pauses at 0.05 sec","anchor":"middle"},
"data":{"name":"d"},
"encoding":{
"x":{"field":"x","type":"quantitative","scale":{"domain":[0,50],"nice":false},"axis":{"values":[0,5,10,15,20,25,30,35,40,45,50],"title":"Generation #","titlePadding":6}},
"y":{"field":"y","type":"quantitative","scale":{"domain":[0,5000],"nice":false},"axis":{"values":[0,500,1000,1500,2000,2500,3000,3500,4000,4500,5000],"title":"Fitness score","titlePadding":11,"titleFontSize":14}},
"color":{"field":"g","type":"nominal","scale":{"domain":["A","B","C","D","E","F","G","H"],"range":["#000000","#000000","#000000","#000000","#000000","#000000","#ff0000","#ff0000"]},"legend":null},
"detail":[{"field":"g"},{"field":"s"}]
},
"layer":[
{"transform":[{"filter":{"field":"g","oneOf":["A","B","C","D"]}}],"mark":{"type":"line","strokeWidth":1}},
{"transform":[{"filter":{"field":"g","oneOf":["C","D"]}}],"mark":{"type":"point","shape":"M-1,0H1M0,-1V1","filled":false,"size":16,"strokeWidth":0.8,"opacity":0.7}}
]},
{"width":419,"height":330,
"title":{"text":"Optimal GA-ES, var. pauses contra constant pauses 0.15 & 0.1sec","anchor":"end"},
"data":{"name":"d"},
"encoding":{
"x":{"field":"x","type":"quantitative","scale":{"domain":[0,50],"nice":false},"axis":{"values":[0,5,10,15,20,25,30,35,40,45,50],"title":"Generation #","titlePadding":6}},
"y":{"field":"y","type":"quantitative","scale":{"domain":[0,5000],"nice":false},"axis":{"values":[0,500,1000,1500,2000,2500,3000,3500,4000,4500,5000],"title":"Fitness score","titlePadding":11,"titleFontSize":14}},
"color":{"field":"g","type":"nominal","scale":{"domain":["A","B","C","D","E","F","G","H"],"range":["#000000","#000000","#000000","#000000","#000000","#000000","#ff0000","#ff0000"]},"legend":null},
"detail":[{"field":"g"},{"field":"s"}]
},
"layer":[
{"transform":[{"filter":{"field":"g","oneOf":["A","B","E","F","G","H"]}}],"mark":{"type":"line","strokeWidth":1}},
{"transform":[{"filter":{"field":"g","oneOf":["E","F","G","H"]}}],"mark":{"type":"point","shape":"M-1,0H1M0,-1V1","filled":false,"size":16,"strokeWidth":0.8,"opacity":0.7}}
]}
]
}
